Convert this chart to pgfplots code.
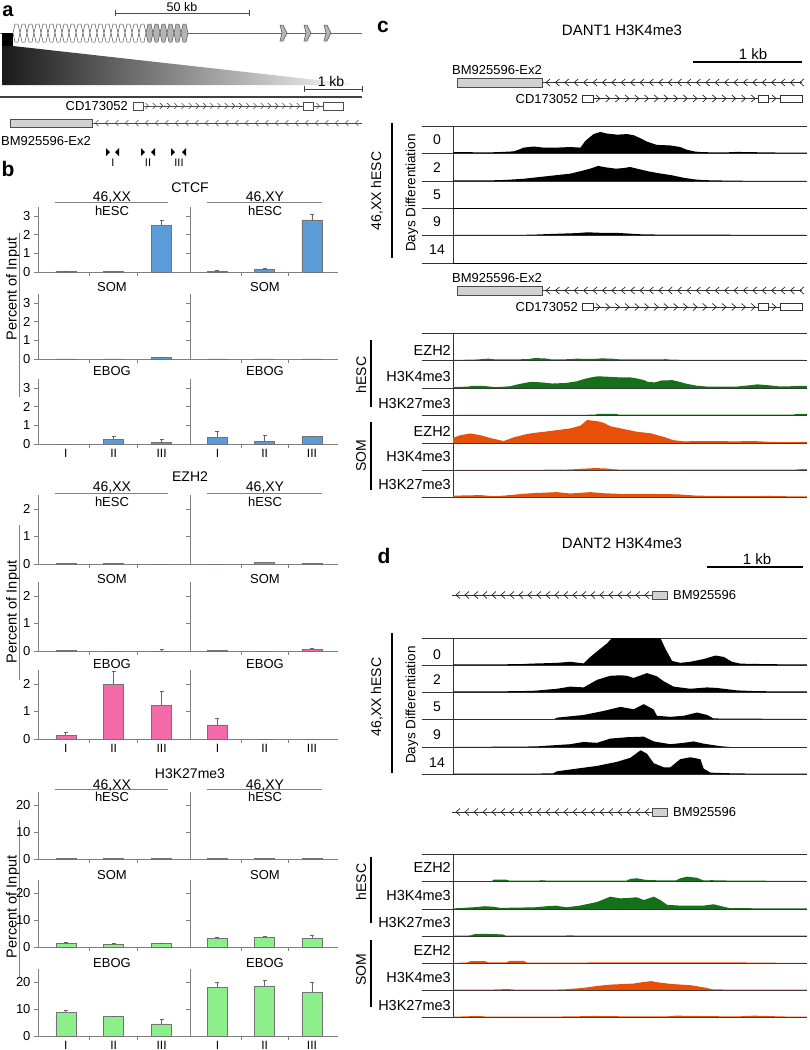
\documentclass[border=0pt]{standalone}
\usepackage{fontspec}
\setmainfont{Liberation Sans}
\usepackage{pgfplots}
\pgfplotsset{compat=1.18}
\definecolor{ctcf}{HTML}{5B9BD8}
\definecolor{ezh}{HTML}{F46BAA}
\definecolor{kme}{HTML}{8CEF8C}
\definecolor{axg}{HTML}{808080}
\definecolor{dgreen}{HTML}{16701A}
\definecolor{orng}{HTML}{E8500A}
\definecolor{lgray}{HTML}{D2D2D2}
\definecolor{hexg}{HTML}{B4B4B4}
\newcommand\fs[1]{\fontsize{#1}{#1}\selectfont}

\pgfplotsset{
 barax/.style={scale only axis, anchor=south west, width=150pt,
   xmin=-0.58, xmax=2.55, ymin=0,
   axis x line*=bottom, axis y line*=left,
   axis line style={draw=axg, line width=0.9pt},
   xtick={0,1,2}, xticklabels={},
   major x tick style={draw=none},
   minor xtick={0.5,1.5},
   minor x tick style={draw=axg, line width=0.7pt},
   minor tick length=4pt,
   tick align=outside,
   ytick style={draw=axg, line width=0.7pt},
   major tick length=4pt,
   yticklabel style={font=\fs{13}},
   xticklabel style={font=\fs{12}, inner sep=1pt},
   /pgf/number format/assume math mode=true,
 },
 rightax/.style={width=148pt, yticklabels={}},
 labx/.style={xticklabels={I,II,III}},
 ctcfax/.style={ymax=3.5, height=65.3pt, ytick={0,1,2,3}},
 ezhax/.style={ymax=2.5, height=68.75pt, ytick={0,1,2}},
 kmeax/.style={ymax=25, height=67.5pt, ytick={0,10,20}},
 barplot/.style={ybar, bar width=20pt, fill=#1, draw=black!55, line width=0.5pt,
   error bars/y dir=plus, error bars/y explicit,
   error bars/error bar style={draw=black!60, line width=0.8pt},
   error bars/error mark options={rotate=90, mark size=2pt, draw=black!60}},
 trk/.style={scale only axis, anchor=south west, width=354pt, height=#1,
   xmin=0, xmax=100, ymin=0, ymax=1, axis lines=none, ticks=none},
}

\begin{document}
\begin{tikzpicture}
\useasboundingbox (0pt,0pt) rectangle (809pt,-1050pt);
\begin{scope}[x=1pt,y=-1pt, every node/.style={font=\fs{13}, inner sep=0pt}]
% ---------------- panel a
\node[font=\bfseries\fs{20}, anchor=base] at (8,16) {a};
\draw[black!70, line width=0.8pt] (115,13) -- (249,13) (115,10) -- (115,16) (249,10) -- (249,16);
\node[anchor=base, font=\fs{12.5}] at (182,11) {50 kb};
\draw[black!60, line width=1pt] (0,33) -- (362,33);
\shade[left color=black!90, right color=white] (2,46) -- (13,46) -- (362,85) -- (2,85) -- cycle;
\fill[black] (2,33) rectangle (13,46);
\foreach \i in {0,...,18} {
  \filldraw[fill=white, draw=black!65, line width=0.5pt] ({13+7*\i},33) -- ({15+7*\i},24) -- ({18+7*\i},24) -- ({20+7*\i},33) -- ({18+7*\i},42) -- ({15+7*\i},42) -- cycle;}
\foreach \i in {19,...,24} {
  \filldraw[fill=hexg, draw=black!65, line width=0.5pt] ({13+7*\i},33) -- ({15+7*\i},24) -- ({18+7*\i},24) -- ({20+7*\i},33) -- ({18+7*\i},42) -- ({15+7*\i},42) -- cycle;}
\foreach \x in {280,304,324} {
  \filldraw[fill=hexg, draw=black!65, line width=0.5pt] (\x,25) -- ({\x+3},25) -- ({\x+7},33) -- ({\x+3},41) -- (\x,41) -- ({\x+2},33) -- cycle;}
\draw[black!75, line width=0.8pt] (304,89) -- (362,89) (304,86) -- (304,92) (362,86) -- (362,92);
\node[anchor=base, font=\fs{14}] at (331,86.5) {1 kb};
\draw[black!75, line width=1.6pt] (0,97) -- (362,97);
\node[anchor=base east] at (128,110.7) {CD173052};
\draw[black!70, line width=0.6pt] (143,106) -- (303,106) (313,106) -- (323,106);
\foreach \x in {147,154.2,...,300} {\draw[black!70, line width=0.6pt] ({\x-1.5},103) -- ({\x+1.5},106) -- ({\x-1.5},109);}
\draw[black!70, line width=0.6pt] (316.5,103) -- (319.5,106) -- (316.5,109);
\draw[black!70, line width=0.7pt, fill=white] (133,102) rectangle (143,110) (303,102) rectangle (313,110) (323,102) rectangle (343,110);
\draw[black!70, line width=0.6pt] (92,123) -- (362,123);
\foreach \x in {97,107,...,360} {\draw[black!70, line width=0.6pt] ({\x+1.5},120) -- ({\x-1.5},123) -- ({\x+1.5},126);}
\draw[black!70, line width=0.7pt, fill=lgray] (10,119) rectangle (92,127);
\node[anchor=base west] at (1,145.5) {BM925596-Ex2};
\foreach \a/\b in {106/115, 141/151, 171/182} {
  \fill[black] (\a,148) -- ({\a+4},152) -- (\a,156) -- cycle;
  \fill[black] ({\b+4},148) -- (\b,152) -- ({\b+4},156) -- cycle;}
\node[font=\fs{11}, anchor=base] at (113,166.5) {I};
\node[font=\fs{11}, anchor=base] at (148,166.5) {II};
\node[font=\fs{11}, anchor=base] at (179,166.5) {III};
% ---------------- panel b texts
\node[font=\bfseries\fs{21}] at (8,169) {b};
\node[font=\fs{14}, anchor=base] at (190,192) {CTCF};
\node[font=\fs{14}, anchor=base] at (190,481.4) {EZH2};
\node[font=\fs{14}, anchor=base] at (190,778) {H3K27me3};
\foreach \yl/\ya/\yb in {202.5/201.5/215.5, 493/491.4/506.4, 789.5/789.7/801.7} {
  \draw[axg, line width=1pt] (55,\yl) -- (168,\yl) (207,\yl) -- (322,\yl);
  \node[anchor=base, font=\fs{14}] at (112,\ya) {46,XX};
  \node[anchor=base, font=\fs{14}] at (265,\ya) {46,XY};
  \node[anchor=base] at (112,\yb) {hESC};
  \node[anchor=base] at (265,\yb) {hESC};}
\foreach \ys/\ye in {291.7/375.7, 583/668.7, 879.7/967.7} {
  \node[anchor=base] at (112,\ys) {SOM};
  \node[anchor=base] at (265,\ys) {SOM};
  \node[anchor=base] at (112,\ye) {EBOG};
  \node[anchor=base] at (265,\ye) {EBOG};}
\node[rotate=90, font=\fs{14.5}] at (13,289) {Percent of Input};
\node[rotate=90, font=\fs{14.5}] at (13,612) {Percent of Input};
\node[rotate=90, font=\fs{14.5}] at (13,907) {Percent of Input};
\draw[axg, line width=1pt] (19.5,233) -- (19.5,397) (19,525) -- (19,680) (19,820) -- (19,977);
% ---------------- panel c texts
\node[font=\bfseries\fs{21}] at (383,27) {c};
\node[font=\fs{15}, anchor=base] at (622,35.4) {DANT1 H3K4me3};
\draw[black, line width=1.6pt] (693,62) -- (802,62);
\node[font=\fs{15}, anchor=base] at (753,59) {1 kb};
\foreach \yb/\yc in {82.5/98.5, 290.5/307} {
  \node[anchor=base west] at (452,{\yb-8}) {BM925596-Ex2};
  \draw[black!80, line width=0.6pt] (542,\yb) -- (802,\yb);
  \foreach \x in {548,557.4,...,802} {\draw[black!85, line width=0.7pt] ({\x+2},{\yb-3.5}) -- ({\x-2},\yb) -- ({\x+2},{\yb+3.5});}
  \draw[black!70, line width=0.7pt, fill=lgray] (457,{\yb-4.5}) rectangle (542,{\yb+4.5});
  \node[anchor=base east] at (578,{\yc+4.6}) {CD173052};
  \draw[black!80, line width=0.6pt] (593,\yc) -- (758,\yc) (768,\yc) -- (780,\yc);
  \foreach \x in {598,607.7,...,755} {\draw[black!85, line width=0.7pt] ({\x-2},{\yc-3.5}) -- ({\x+2},\yc) -- ({\x-2},{\yc+3.5});}
  \draw[black!85, line width=0.7pt] (772,{\yc-3.5}) -- (776,\yc) -- (772,{\yc+3.5});
  \draw[black!80, line width=0.7pt, fill=white] (582,{\yc-3.5}) rectangle (593,{\yc+3.5}) (758,{\yc-3.5}) rectangle (768,{\yc+3.5}) (780,{\yc-3.5}) rectangle (802,{\yc+3.5});
}
% tracks c1
\foreach \yy in {126,153,181,208,235,263} {\draw[black!80, line width=0.8pt] (422,\yy) -- (807,\yy);}
\draw[black!80, line width=0.8pt] (453,126) -- (453,263);
\foreach \yy/\t in {140/0,168/2,195/5,222/9,250/14} {\node[font=\fs{14}] at (437,\yy) {\t};}
\draw[black, line width=2pt] (392,123) -- (392,258);
\node[rotate=90, font=\fs{14}] at (377,191) {46,XX hESC};
\node[rotate=90, font=\fs{13.5}] at (412,193) {Days Differentiation};
% tracks c2
\foreach \yy in {333,360,388,415,443,470,497} {\draw[black!80, line width=0.8pt] (422,\yy) -- (807,\yy);}
\draw[black!80, line width=0.8pt] (453,333) -- (453,497);
\foreach \yy/\t in {350/EZH2,377/H3K4me3,404/H3K27me3,431/EZH2,457/H3K4me3,485/H3K27me3} {\node[anchor=east, font=\fs{14.5}] at (451,\yy) {\t};}
\draw[black, line width=2pt] (371,340) -- (371,407) (371,422) -- (371,490);
\node[rotate=90, font=\fs{14}] at (361,375) {hESC};
\node[rotate=90, font=\fs{14}] at (361,456) {SOM};
% ---------------- panel d texts
\node[font=\bfseries\fs{21}] at (384,556) {d};
\node[font=\fs{15}, anchor=base] at (622,548.4) {DANT2 H3K4me3};
\draw[black, line width=1.6pt] (707,567) -- (803,567);
\node[font=\fs{15}, anchor=base] at (757,564) {1 kb};
\foreach \yb in {595, 812} {
  \draw[black!80, line width=0.6pt] (452,\yb) -- (652,\yb);
  \foreach \x in {458,467,...,650} {\draw[black!85, line width=0.7pt] ({\x+2},{\yb-3.5}) -- ({\x-2},\yb) -- ({\x+2},{\yb+3.5});}
  \draw[black!70, line width=0.7pt, fill=lgray] (652,{\yb-4}) rectangle (667,{\yb+4});
  \node[anchor=base west] at (673,{\yb+4.6}) {BM925596};
}
\foreach \yy in {638,665,692,719,747,774} {\draw[black!80, line width=0.8pt] (422,\yy) -- (807,\yy);}
\draw[black!80, line width=0.8pt] (453,638) -- (453,774);
\foreach \yy/\t in {655/0,680/2,707/5,735/9,763/14} {\node[font=\fs{14}] at (437,\yy) {\t};}
\draw[black, line width=2pt] (392,633) -- (392,773);
\node[rotate=90, font=\fs{14}] at (377,697) {46,XX hESC};
\node[rotate=90, font=\fs{13.5}] at (412,705) {Days Differentiation};
\foreach \yy in {854,881,909,936,963,990,1017} {\draw[black!80, line width=0.8pt] (422,\yy) -- (807,\yy);}
\draw[black!80, line width=0.8pt] (453,854) -- (453,1017);
\foreach \yy/\t in {867/EZH2,895/H3K4me3,922/H3K27me3,950/EZH2,977/H3K4me3,1005/H3K27me3} {\node[anchor=east, font=\fs{14.5}] at (451,\yy) {\t};}
\draw[black, line width=2pt] (371,857) -- (371,923) (371,940) -- (371,1007);
\node[rotate=90, font=\fs{14}] at (361,882) {hESC};
\node[rotate=90, font=\fs{14}] at (361,970) {SOM};
\end{scope}

% ================= bar charts: CTCF
\begin{axis}[barax, ctcfax, at={(38pt,-272pt)}]
\addplot[barplot=ctcf] coordinates {(0,0.04) +- (0,0.01) (1,0.02) (2,2.5) +- (0,0.3)};
\end{axis}
\begin{axis}[barax, ctcfax, rightax, at={(190pt,-272pt)}]
\addplot[barplot=ctcf] coordinates {(0,0.05) +- (0,0.02) (1,0.15) +- (0,0.03) (2,2.8) +- (0,0.32)};
\end{axis}
\begin{axis}[barax, ctcfax, at={(38pt,-359pt)}]
\addplot[barplot=ctcf] coordinates {(0,0.01) (1,0.005) (2,0.08) +- (0,0.03)};
\end{axis}
\begin{axis}[barax, ctcfax, rightax, at={(190pt,-359pt)}]
\addplot[barplot=ctcf] coordinates {(0,0.01) (1,0.005) (2,0.01)};
\end{axis}
\begin{axis}[barax, ctcfax, labx, at={(38pt,-444pt)}]
\addplot[barplot=ctcf] coordinates {(0,0.0) (1,0.26) +- (0,0.14) (2,0.08) +- (0,0.17)};
\end{axis}
\begin{axis}[barax, ctcfax, rightax, labx, at={(190pt,-444pt)}]
\addplot[barplot=ctcf] coordinates {(0,0.35) +- (0,0.33) (1,0.16) +- (0,0.3) (2,0.39) +- (0,0.03)};
\end{axis}
% ================= EZH2
\begin{axis}[barax, ezhax, at={(38pt,-564pt)}]
\addplot[barplot=ezh] coordinates {(0,0.02) (1,0.03) (2,0.0)};
\end{axis}
\begin{axis}[barax, ezhax, rightax, at={(190pt,-564pt)}]
\addplot[barplot=ezh] coordinates {(0,0.0) (1,0.05) (2,0.03)};
\end{axis}
\begin{axis}[barax, ezhax, at={(38pt,-651pt)}]
\addplot[barplot=ezh] coordinates {(0,0.03) (1,0.0) (2,0.0) +- (0,0.08)};
\end{axis}
\begin{axis}[barax, ezhax, rightax, at={(190pt,-651pt)}]
\addplot[barplot=ezh] coordinates {(0,0.01) (1,0.0) (2,0.07) +- (0,0.04)};
\end{axis}
\begin{axis}[barax, ezhax, labx, at={(38pt,-739pt)}]
\addplot[barplot=ezh] coordinates {(0,0.14) +- (0,0.09) (1,2.0) +- (0,0.48) (2,1.23) +- (0,0.5)};
\end{axis}
\begin{axis}[barax, ezhax, rightax, labx, at={(190pt,-739pt)}]
\addplot[barplot=ezh] coordinates {(0,0.51) +- (0,0.25) (1,0) (2,0)};
\end{axis}
% ================= H3K27me3
\begin{axis}[barax, kmeax, at={(38pt,-859pt)}]
\addplot[barplot=kme] coordinates {(0,0.1) (1,0.1) (2,0.1)};
\end{axis}
\begin{axis}[barax, kmeax, rightax, at={(190pt,-859pt)}]
\addplot[barplot=kme] coordinates {(0,0.1) (1,0.1) (2,0.1)};
\end{axis}
\begin{axis}[barax, kmeax, at={(38pt,-947pt)}]
\addplot[barplot=kme] coordinates {(0,1.3) +- (0,0.3) (1,1.1) +- (0,0.2) (2,1.3) +- (0,0.2)};
\end{axis}
\begin{axis}[barax, kmeax, rightax, at={(190pt,-947pt)}]
\addplot[barplot=kme] coordinates {(0,3.2) +- (0,0.3) (1,3.6) +- (0,0.3) (2,3.2) +- (0,1.2)};
\end{axis}
\begin{axis}[barax, kmeax, labx, at={(38pt,-1036pt)}]
\addplot[barplot=kme] coordinates {(0,8.8) +- (0,0.7) (1,7.3) +- (0,0.2) (2,4.5) +- (0,1.8)};
\end{axis}
\begin{axis}[barax, kmeax, rightax, labx, at={(190pt,-1036pt)}]
\addplot[barplot=kme] coordinates {(0,18) +- (0,1.8) (1,18.6) +- (0,1.9) (2,16.3) +- (0,3.5)};
\end{axis}

% ================= tracks panel c, days
\begin{axis}[trk=27pt, at={(453pt,-153pt)}]
\addplot[fill=black, draw=none] coordinates {(0,0.03) (4.9,0.03) (8,0.02) (12.4,0.03) (17.1,0.06) (18.5,0.12) (20,0.2) (22.8,0.24) (25.6,0.2) (29.4,0.2) (31,0.21) (33.1,0.22) (36,0.2) (37.4,0.45) (39.7,0.7) (41.6,0.78) (43.5,0.72) (46.3,0.68) (49.2,0.7) (51,0.66) (52.9,0.55) (54.8,0.42) (57.6,0.3) (61.4,0.28) (64.2,0.22) (66.1,0.12) (68.5,0.05) (70.8,0.03) (76.5,0.02) (80.2,0.04) (84.9,0.03) (89.6,0.02) (100,0.01)} \closedcycle;
\end{axis}
\begin{axis}[trk=28pt, at={(453pt,-181pt)}]
\addplot[fill=black, draw=none] coordinates {(0,0.02) (10,0.02) (15,0.04) (20,0.08) (25,0.15) (30,0.22) (33,0.26) (36,0.35) (39,0.45) (41,0.54) (43,0.49) (46,0.44) (48,0.46) (50,0.5) (52,0.44) (55,0.35) (58,0.28) (62,0.2) (65,0.12) (68,0.06) (71,0.03) (75,0.02) (80,0.01) (100,0.0)} \closedcycle;
\end{axis}
\begin{axis}[trk=27pt, at={(453pt,-208pt)}]
\addplot[fill=black, draw=none] coordinates {(0,0.005) (100,0.005)} \closedcycle;
\end{axis}
\begin{axis}[trk=27pt, at={(453pt,-235pt)}]
\addplot[fill=black, draw=none] coordinates {(0,0) (22,0.01) (28,0.04) (35,0.07) (38,0.1) (42,0.08) (46,0.08) (50,0.05) (54,0.02) (100,0)} \closedcycle;
\end{axis}
\begin{axis}[trk=28pt, at={(453pt,-263pt)}]
\addplot[fill=black, draw=none] coordinates {(0,0.005) (100,0.005)} \closedcycle;
\end{axis}
% ================= tracks panel c, ChIP
\begin{axis}[trk=27pt, at={(453pt,-360pt)}]
\addplot[fill=dgreen, draw=none] coordinates {(0,0) (7,0.02) (10,0.05) (12,0.02) (21,0.03) (23,0.07) (26,0.06) (28,0.02) (33,0.03) (35,0.05) (37,0.04) (40,0.04) (42,0.06) (45,0.05) (46,0.03) (50,0.02) (58,0.02) (60,0.03) (62,0.01) (100,0)} \closedcycle;
\end{axis}
\begin{axis}[trk=28pt, at={(453pt,-388pt)}]
\addplot[fill=dgreen, draw=none] coordinates {(0,0.03) (4,0.05) (6,0.08) (9,0.07) (12,0.03) (16,0.06) (19,0.15) (22,0.22) (25,0.2) (28,0.16) (32,0.18) (35,0.24) (37,0.32) (39,0.38) (41,0.42) (44,0.4) (47,0.38) (50,0.38) (52,0.34) (54,0.28) (55,0.22) (57,0.2) (59,0.27) (62,0.28) (64,0.22) (66,0.15) (69,0.08) (72,0.05) (80,0.05) (84,0.1) (86,0.13) (89,0.1) (92,0.06) (95,0.06) (98,0.08) (100,0.07)} \closedcycle;
\end{axis}
\begin{axis}[trk=27pt, at={(453pt,-415pt)}]
\addplot[fill=dgreen, draw=none] coordinates {(0,0) (40,0.01) (41,0.04) (46,0.04) (47,0.01) (96,0.01) (97,0.04) (100,0.04)} \closedcycle;
\end{axis}
\begin{axis}[trk=28pt, at={(453pt,-443pt)}]
\addplot[fill=orng, draw=none] coordinates {(0,0.18) (2.1,0.28) (4.9,0.34) (7.7,0.28) (10.5,0.18) (14.3,0.07) (17.1,0.2) (20.9,0.32) (22.8,0.36) (25.6,0.4) (29.4,0.46) (33.1,0.52) (36,0.62) (37.9,0.82) (40.7,0.78) (42.6,0.72) (44.4,0.6) (48.2,0.5) (52,0.4) (55.7,0.35) (59.5,0.22) (62.3,0.1) (65.2,0.06) (70.8,0.07) (80.2,0.06) (84.9,0.07) (89.6,0.04) (94.4,0.03) (100,0.04)} \closedcycle;
\end{axis}
\begin{axis}[trk=27pt, at={(453pt,-470pt)}]
\addplot[fill=orng, draw=none] coordinates {(0,0) (27,0.01) (33,0.02) (37,0.05) (40,0.07) (43,0.06) (46,0.02) (50,0.01) (96,0.01) (98,0.03) (100,0.03)} \closedcycle;
\end{axis}
\begin{axis}[trk=27pt, at={(453pt,-497pt)}]
\addplot[fill=orng, draw=none] coordinates {(0,0.05) (7.7,0.07) (11.5,0.03) (14.3,0.05) (20,0.12) (23.7,0.15) (29.4,0.18) (33.1,0.13) (38.8,0.18) (42.6,0.14) (48.2,0.11) (52,0.12) (57.6,0.11) (63.3,0.1) (68.9,0.05) (80.2,0.03) (89.6,0.04) (97,0.02) (100,0.02)} \closedcycle;
\end{axis}
% ================= tracks panel d, days
\begin{axis}[trk=27pt, at={(453pt,-665pt)}]
\addplot[fill=black, draw=none] coordinates {(0,0.02) (19,0.03) (21.8,0.05) (29.4,0.08) (33.1,0.12) (36.9,0.06) (38.8,0.3) (41.6,0.6) (43.5,0.8) (44.9,1.0) (58.6,1.0) (60,0.6) (61.9,0.15) (64.2,0.08) (67,0.12) (70.8,0.22) (74.1,0.35) (76.5,0.3) (78.8,0.12) (81.2,0.05) (89.6,0.03) (100,0.02)} \closedcycle;
\end{axis}
\begin{axis}[trk=27pt, at={(453pt,-692pt)}]
\addplot[fill=black, draw=none] coordinates {(0,0.02) (19,0.03) (23.4,0.05) (29.4,0.12) (33.1,0.2) (36.9,0.17) (40.7,0.45) (44.4,0.6) (47.3,0.62) (49.2,0.6) (51,0.52) (54.8,0.7) (57.6,0.58) (59.5,0.4) (62.3,0.2) (67,0.12) (71.8,0.17) (74.6,0.15) (80.2,0.06) (85.8,0.03) (100,0.02)} \closedcycle;
\end{axis}
\begin{axis}[trk=27pt, at={(453pt,-719pt)}]
\addplot[fill=black, draw=none] coordinates {(0,0) (28.6,0) (29.4,0.05) (36.9,0.15) (42.6,0.3) (47.3,0.45) (51,0.36) (53.9,0.55) (56.7,0.35) (57.6,0.12) (61.4,0.08) (65.2,0.12) (68.9,0.24) (71.8,0.15) (73.6,0.02) (100,0)} \closedcycle;
\end{axis}
\begin{axis}[trk=28pt, at={(453pt,-747pt)}]
\addplot[fill=black, draw=none] coordinates {(0,0) (23.4,0.02) (33.1,0.1) (36.9,0.18) (40.7,0.15) (44.4,0.3) (49.2,0.35) (53.9,0.37) (56.7,0.2) (61.4,0.1) (65.2,0.15) (68,0.2) (70.8,0.12) (75.5,0.03) (78.3,0) (100,0)} \closedcycle;
\end{axis}
\begin{axis}[trk=27pt, at={(453pt,-774pt)}]
\addplot[fill=black, draw=none] coordinates {(0,0.01) (28.2,0.02) (29.4,0.1) (35,0.2) (40.7,0.3) (46.3,0.45) (50.1,0.6) (53,0.88) (54.8,0.75) (56.7,0.4) (59.5,0.25) (61.4,0.25) (64.2,0.55) (67,0.62) (69.9,0.55) (70.8,0.2) (72.7,0.05) (80.2,0.02) (100,0.01)} \closedcycle;
\end{axis}
% ================= tracks panel d, ChIP
\begin{axis}[trk=27pt, at={(453pt,-881pt)}]
\addplot[fill=dgreen, draw=none] coordinates {(0,0) (11,0) (11.5,0.05) (15,0.05) (16,0.01) (24,0.01) (25,0.03) (27,0.01) (49,0.01) (50.1,0.08) (52,0.1) (54,0.05) (56,0.03) (63,0.02) (64.2,0.1) (66.1,0.16) (68.9,0.12) (70.8,0.02) (73,0.03) (76,0.02) (100,0)} \closedcycle;
\end{axis}
\begin{axis}[trk=28pt, at={(453pt,-909pt)}]
\addplot[fill=dgreen, draw=none] coordinates {(0,0.02) (6.8,0.07) (9,0.1) (11.5,0.08) (13.4,0.04) (23,0.06) (26.6,0.1) (29,0.12) (32,0.06) (35.8,0.12) (40.7,0.25) (44.4,0.44) (47.3,0.38) (50.1,0.4) (51.9,0.42) (53.9,0.32) (56.7,0.44) (58.6,0.32) (60.5,0.15) (64.2,0.12) (70.8,0.12) (73.6,0.17) (76.5,0.08) (78.3,0.03) (100,0.02)} \closedcycle;
\end{axis}
\begin{axis}[trk=27pt, at={(453pt,-936pt)}]
\addplot[fill=dgreen, draw=none] coordinates {(0,0.01) (5,0.02) (6,0.07) (9,0.08) (14,0.06) (15,0.01) (34,0.02) (35,0.01) (100,0.01)} \closedcycle;
\end{axis}
\begin{axis}[trk=27pt, at={(453pt,-963pt)}]
\addplot[fill=orng, draw=none] coordinates {(0,0) (4,0.02) (5,0.07) (9,0.07) (10,0.02) (15,0.02) (16,0.08) (20,0.08) (21,0.01) (40,0.02) (55,0.02) (60,0.02) (82,0.02) (100,0)} \closedcycle;
\end{axis}
\begin{axis}[trk=27pt, at={(453pt,-990pt)}]
\addplot[fill=orng, draw=none] coordinates {(0,0.01) (13,0.02) (15,0.04) (18,0.01) (31,0.02) (37,0.08) (40.7,0.15) (44.4,0.2) (48,0.22) (51,0.24) (54,0.3) (56,0.33) (58,0.28) (62,0.22) (67,0.18) (70.8,0.1) (73.6,0.02) (100,0.01)} \closedcycle;
\end{axis}
\begin{axis}[trk=27pt, at={(453pt,-1017pt)}]
\addplot[fill=orng, draw=none] coordinates {(0,0.01) (5,0.03) (8,0.03) (10,0.01) (33,0.02) (40,0.04) (44,0.03) (60,0.02) (63,0.05) (68,0.04) (80,0.02) (85,0.05) (88,0.04) (93,0.02) (100,0.01)} \closedcycle;
\end{axis}
\end{tikzpicture}
\end{document}
